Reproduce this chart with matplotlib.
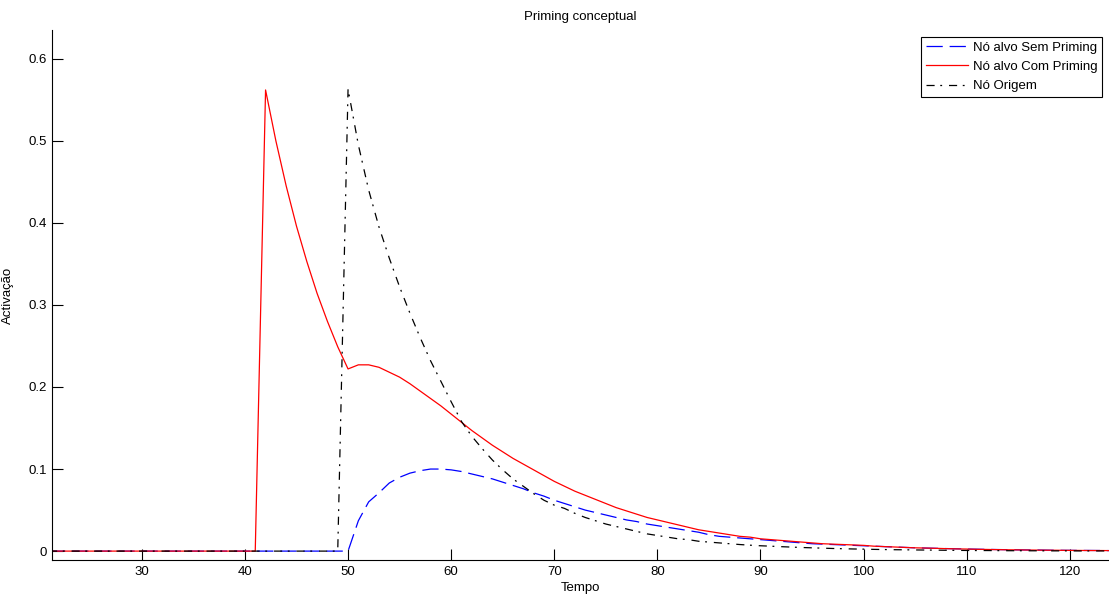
import numpy as np
import matplotlib
matplotlib.use("Agg")
import matplotlib.pyplot as plt

plt.rcParams['font.family'] = ['Liberation Sans', 'DejaVu Sans']

# time steps of the simulation
tempo = np.arange(21, 125)

# activation of the target node without priming
sem_priming = [
    0, 0, 0, 0, 0, 0, 0, 0, 0, 0,              # 21-30
    0, 0, 0, 0, 0, 0, 0, 0, 0, 0,              # 31-40
    0, 0, 0, 0, 0, 0, 0, 0, 0, 0,              # 41-50
    0.037, 0.060, 0.071, 0.083, 0.090, 0.095, 0.098, 0.100, 0.100, 0.099,   # 51-60
    0.097, 0.094, 0.091, 0.088, 0.084, 0.080, 0.076, 0.071, 0.067, 0.062,   # 61-70
    0.058, 0.054, 0.050, 0.047, 0.044, 0.041, 0.038, 0.036, 0.033, 0.031,   # 71-80
    0.029, 0.027, 0.025, 0.023, 0.020, 0.018, 0.017, 0.016, 0.015, 0.014,   # 81-90
    0.013, 0.012, 0.011, 0.010, 0.009, 0.0085, 0.008, 0.0075, 0.007, 0.0065,  # 91-100
    0.006, 0.0055, 0.005, 0.0045, 0.004, 0.0037, 0.0034, 0.0031, 0.0028, 0.0025,  # 101-110
    0.0023, 0.0021, 0.0019, 0.0017, 0.0015, 0.0014, 0.0013, 0.0011, 0.0010, 0.0009,  # 111-120
    0.0008, 0.0008, 0.0007, 0.0006,            # 121-124
]

# activation of the target node with priming
com_priming = [
    0, 0, 0, 0, 0, 0, 0, 0, 0, 0,              # 21-30
    0, 0, 0, 0, 0, 0, 0, 0, 0, 0,              # 31-40
    0, 0.562, 0.500, 0.445, 0.396, 0.353, 0.314, 0.280, 0.249, 0.222,      # 41-50
    0.227, 0.227, 0.224, 0.218, 0.212, 0.204, 0.195, 0.186, 0.177, 0.167,  # 51-60
    0.157, 0.147, 0.138, 0.129, 0.121, 0.113, 0.106, 0.099, 0.092, 0.085,  # 61-70
    0.079, 0.073, 0.068, 0.063, 0.058, 0.053, 0.049, 0.045, 0.041, 0.038,  # 71-80
    0.035, 0.032, 0.029, 0.026, 0.024, 0.022, 0.020, 0.018, 0.017, 0.015,  # 81-90
    0.014, 0.013, 0.012, 0.011, 0.010, 0.009, 0.0085, 0.008, 0.0075, 0.007,  # 91-100
    0.006, 0.0055, 0.005, 0.0045, 0.004, 0.0037, 0.0034, 0.003, 0.0027, 0.0025,  # 101-110
    0.0022, 0.002, 0.0018, 0.0016, 0.0015, 0.0013, 0.0012, 0.0011, 0.0010, 0.0009,  # 111-120
    0.0008, 0.0007, 0.0007, 0.0006,            # 121-124
]

# activation of the source node
origem = [
    0, 0, 0, 0, 0, 0, 0, 0, 0, 0,              # 21-30
    0, 0, 0, 0, 0, 0, 0, 0, 0, 0,              # 31-40
    0, 0, 0, 0, 0, 0, 0, 0, 0, 0.563,          # 41-50
    0.495, 0.440, 0.395, 0.357, 0.322, 0.290, 0.260, 0.232, 0.207, 0.182,  # 51-60
    0.158, 0.140, 0.125, 0.111, 0.099, 0.088, 0.079, 0.070, 0.062, 0.056,  # 61-70
    0.052, 0.046, 0.041, 0.037, 0.033, 0.030, 0.027, 0.024, 0.021, 0.019,  # 71-80
    0.017, 0.015, 0.014, 0.012, 0.011, 0.010, 0.009, 0.008, 0.0072, 0.0065,  # 81-90
    0.006, 0.0054, 0.0049, 0.0044, 0.004, 0.0036, 0.0032, 0.0029, 0.0026, 0.0024,  # 91-100
    0.0021, 0.0019, 0.0017, 0.0016, 0.0014, 0.0013, 0.0012, 0.0010, 0.0009, 0.0008,  # 101-110
    0.0007, 0.0007, 0.0006, 0.0005, 0.0005, 0.0004, 0.0004, 0.0003, 0.0003, 0.0003,  # 111-120
    0.0002, 0.0002, 0.0002, 0.0002,            # 121-124
]

x_ticks = [30, 40, 50, 60, 70, 80, 90, 100, 110, 120]
y_ticks = [0, 0.1, 0.2, 0.3, 0.4, 0.5, 0.6]
y_labels = ['0', '0.1', '0.2', '0.3', '0.4', '0.5', '0.6']

fig = plt.figure(figsize=(11.09, 6.01), dpi=100)
ax = fig.add_axes([0.047, 0.068, 0.953, 0.882])

ax.plot(tempo, sem_priming, color='blue', lw=0.9, dashes=(13, 5.5),
        label='Nó alvo Sem Priming')
ax.plot(tempo, com_priming, color='red', lw=0.9,
        label='Nó alvo Com Priming')
ax.plot(tempo, origem, color='black', lw=0.9, dashes=(6.5, 4.5, 1.5, 5.5),
        label='Nó Origem')

ax.set_xlim(21.3, 123.8)
ax.set_ylim(-0.011, 0.635)
ax.set_xticks(x_ticks)
ax.set_yticks(y_ticks)
ax.set_yticklabels(y_labels)
ax.tick_params(direction='in', length=8, width=0.8, labelsize=9.5, pad=4)
ax.spines['top'].set_visible(False)
ax.spines['right'].set_visible(False)

ax.set_title('Priming conceptual', fontsize=9.5, pad=7)
ax.set_xlabel('Tempo', fontsize=9.5, labelpad=3)
ax.set_ylabel('Activação', fontsize=9.5, labelpad=10)

leg = ax.legend(loc='upper right', fontsize=9.5, fancybox=False,
                edgecolor='black', framealpha=1, handlelength=3.2,
                handletextpad=0.4, borderaxespad=0.5, labelspacing=0.55,
                borderpad=0.35)
leg.get_frame().set_linewidth(0.8)

fig.savefig('out.png', dpi=100)
